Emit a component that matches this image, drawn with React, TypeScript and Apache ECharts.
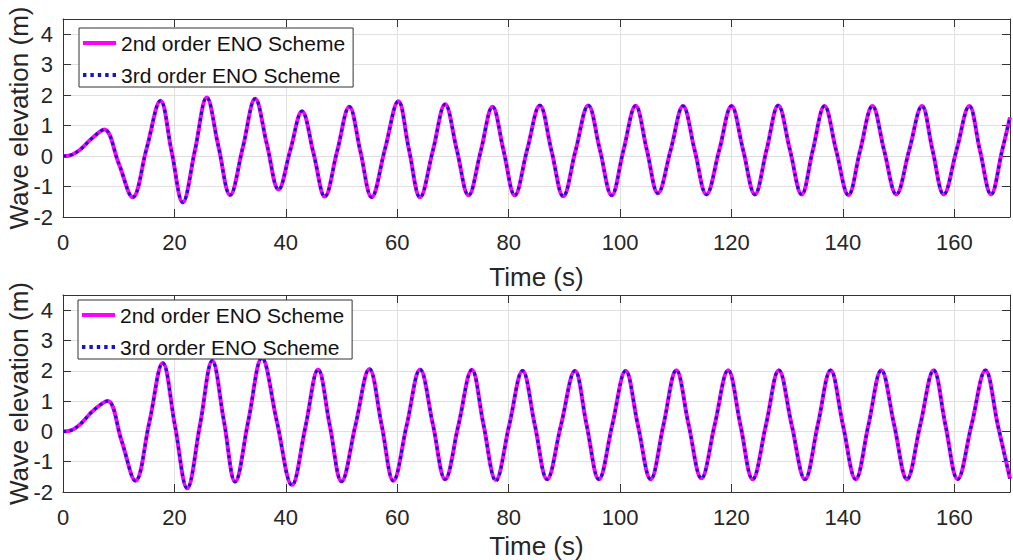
import { useEffect, useRef } from 'react';
import * as echarts from 'echarts';

const FONT = '"Liberation Sans", Arial, Helvetica, sans-serif';
const AXIS_COLOR = '#333333';
const GRID_COLOR = '#e0e0e0';
const TEXT_COLOR = '#262626';

const SERIES_2ND = '2nd order ENO Scheme';
const SERIES_3RD = '3rd order ENO Scheme';

// Top panel: time (s) and wave elevation (m) read at crests, troughs and mid-level crossings
const topTime = [
  0, 1.2, 3, 5, 7.4, 10, 12.5, 15, 17.5, 19.5, 21.5, 23.7, 25.8, 27.9, 30, 32.3, 34.5, 36.6, 38.7,
  40.8, 42.9, 45, 47, 49.2, 51.4, 53.4, 55.4, 57.8, 60.2, 62.1, 64.1, 66.4, 68.6, 70.7, 72.8, 75,
  77.1, 79.1, 81.1, 83.3, 85.6, 87.7, 89.8, 92, 94.3, 96.4, 98.5, 100.6, 102.8, 104.8, 106.8, 109.1,
  111.3, 113.4, 115.5, 117.8, 120, 122.1, 124.2, 126.3, 128.4, 130.5, 132.6, 134.6, 136.7, 138.8,
  141, 143.1, 145.3, 147.4, 149.6, 151.9, 154.2, 156.1, 158.1, 160.4, 162.7, 164.6, 166.6, 168.6, 170,
];
const topElev2nd = [
  0, 0.02, 0.2, 0.55, 0.87, -0.24, -1.35, 0.24, 1.82, 0.15, -1.52, 0.2, 1.92, 0.32, -1.28, 0.3, 1.88, 0.39, -1.1,
  0.19, 1.47, 0.07, -1.33, 0.15, 1.62, 0.14, -1.35, 0.23, 1.8, 0.22, -1.35, 0.18, 1.7, 0.2, -1.29, 0.17,
  1.62, 0.17, -1.29, 0.19, 1.66, 0.17, -1.32, 0.17, 1.66, 0.19, -1.29, 0.18, 1.65, 0.21, -1.22, 0.21,
  1.64, 0.19, -1.26, 0.19, 1.64, 0.19, -1.26, 0.2, 1.66, 0.2, -1.26, 0.19, 1.64, 0.18,
  -1.28, 0.18, 1.64, 0.19, -1.26, 0.19, 1.64, 0.19, -1.26, 0.19, 1.64, 0.19, -1.26, 0.19, 1.27,
];
const topElev3rd = [
  0, 0.02, 0.2, 0.55, 0.87, -0.24, -1.35, 0.24, 1.82, 0.15, -1.52, 0.2, 1.92, 0.32, -1.28, 0.3, 1.88, 0.39, -1.1,
  0.19, 1.47, 0.07, -1.33, 0.15, 1.62, 0.14, -1.35, 0.23, 1.8, 0.22, -1.35, 0.18, 1.7, 0.2, -1.29, 0.17,
  1.62, 0.17, -1.29, 0.19, 1.66, 0.17, -1.32, 0.17, 1.66, 0.19, -1.29, 0.18, 1.65, 0.21, -1.22, 0.21,
  1.64, 0.19, -1.26, 0.19, 1.64, 0.19, -1.26, 0.2, 1.66, 0.2, -1.26, 0.19, 1.64, 0.18,
  -1.28, 0.18, 1.64, 0.19, -1.26, 0.19, 1.64, 0.19, -1.26, 0.19, 1.64, 0.19, -1.26, 0.19, 1.27,
];

// Bottom panel
const bottomTime = [
  0, 1.2, 3, 5.5, 8, 10.5, 13, 15.5, 17.9, 20.1, 22.3, 24.6, 26.8, 28.9, 30.9, 33.3, 35.7, 38.4, 41.1,
  43.5, 45.8, 47.9, 50, 52.5, 55, 57.2, 59.3, 61.7, 64.1, 66.4, 68.6, 71, 73.4, 75.5, 77.7, 80.1,
  82.5, 84.7, 86.9, 89.4, 91.9, 94, 96.2, 98.6, 101, 103.2, 105.5, 107.8, 110.1, 112.3, 114.6, 117,
  119.4, 121.6, 123.8, 126.2, 128.5, 130.8, 133.2, 135.5, 137.8, 140, 142.3, 144.6, 146.9, 149.2,
  151.5, 153.9, 156.3, 158.4, 160.6, 163.1, 165.6, 167.8, 170,
];
const bottomElev2nd = [
  0, 0.02, 0.22, 0.7, 1.0, -0.3, -1.63, 0.3, 2.26, 0.19, -1.88, 0.22, 2.33, 0.33, -1.66, 0.38, 2.42, 0.32, -1.77,
  0.13, 2.04, 0.19, -1.65, 0.2, 2.06, 0.21, -1.63, 0.2, 2.04, 0.23, -1.58, 0.22, 2.03, 0.21, -1.6, 0.2,
  2.0, 0.21, -1.58, 0.21, 2.0, 0.21, -1.58, 0.21, 2.0, 0.21, -1.58, 0.22, 2.02, 0.23, -1.55, 0.23,
  2.02, 0.22, -1.58, 0.22, 2.02, 0.22, -1.58, 0.22, 2.02, 0.22, -1.58, 0.22, 2.02, 0.22,
  -1.58, 0.22, 2.02, 0.22, -1.58, 0.22, 2.02, 0.22, -1.56,
];
const bottomElev3rd = [
  0, 0.02, 0.22, 0.7, 1.0, -0.3, -1.63, 0.3, 2.26, 0.19, -1.88, 0.22, 2.33, 0.33, -1.66, 0.38, 2.42, 0.32, -1.77,
  0.13, 2.04, 0.19, -1.65, 0.2, 2.06, 0.21, -1.63, 0.2, 2.04, 0.23, -1.58, 0.22, 2.03, 0.21, -1.64, 0.2,
  2.0, 0.21, -1.58, 0.21, 2.0, 0.21, -1.58, 0.21, 2.0, 0.21, -1.58, 0.22, 2.02, 0.23, -1.55, 0.23,
  2.02, 0.22, -1.58, 0.22, 2.02, 0.22, -1.58, 0.22, 2.02, 0.22, -1.58, 0.22, 2.02, 0.22,
  -1.58, 0.22, 2.02, 0.22, -1.58, 0.22, 2.02, 0.22, -1.56,
];

const X_MIN = 0;
const X_MAX = 170;
const X_STEP = 20;
const Y_MIN = -2;
const Y_MAX = 4.5;
const Y_STEP = 1;

const MAGENTA = '#ff00ff';
const BLUE = '#1414c8';

const ICON_SOLID = 'path://M0,0h33v4h-33z';
const ICON_DOTTED =
  'path://M0,0h3.4v4h-3.4z M7.4,0h3.4v4h-3.4z M14.8,0h3.4v4h-3.4z M22.2,0h3.4v4h-3.4z M29.6,0h3.4v4h-3.4z';

const pairs = (t: number[], v: number[]) => t.map((x, i) => [x, v[i]]);

function mainX(gridIndex: number, nameGap: number) {
  return {
    type: 'value', gridIndex, min: X_MIN, max: X_MAX, interval: X_STEP, position: 'bottom',
    axisLine: { show: true, onZero: false, lineStyle: { color: AXIS_COLOR, width: 1 } },
    axisTick: { show: true, inside: true, length: 8, lineStyle: { color: AXIS_COLOR } },
    axisLabel: { show: true, fontSize: 22, color: TEXT_COLOR, fontFamily: FONT, margin: 14, showMaxLabel: false },
    splitLine: { show: true, lineStyle: { color: GRID_COLOR, width: 1 } },
    name: 'Time (s)', nameLocation: 'middle', nameGap, nameMoveOverlap: false,
    nameTextStyle: { fontSize: 26, color: TEXT_COLOR, fontFamily: FONT, lineHeight: 28 },
  };
}
function topX(gridIndex: number) {
  return {
    type: 'value', gridIndex, min: X_MIN, max: X_MAX, interval: X_STEP, position: 'top',
    axisLine: { show: true, onZero: false, lineStyle: { color: AXIS_COLOR, width: 1 } },
    axisTick: { show: true, inside: true, length: 8, lineStyle: { color: AXIS_COLOR } },
    axisLabel: { show: false }, splitLine: { show: false },
  };
}
function mainY(gridIndex: number) {
  return {
    type: 'value', gridIndex, min: Y_MIN, max: Y_MAX, interval: Y_STEP, position: 'left',
    axisLine: { show: true, onZero: false, lineStyle: { color: AXIS_COLOR, width: 1 } },
    axisTick: { show: true, inside: true, length: 8, lineStyle: { color: AXIS_COLOR } },
    axisLabel: { show: true, fontSize: 22, color: TEXT_COLOR, fontFamily: FONT, margin: 10, showMaxLabel: false },
    splitLine: { show: true, lineStyle: { color: GRID_COLOR, width: 1 } },
    name: 'Wave elevation (m)', nameLocation: 'middle', nameGap: 31, nameMoveOverlap: false,
    nameTextStyle: { fontSize: 26, color: TEXT_COLOR, fontFamily: FONT, lineHeight: 26 },
  };
}
function rightY(gridIndex: number) {
  return {
    type: 'value', gridIndex, min: Y_MIN, max: Y_MAX, interval: Y_STEP, position: 'right',
    axisLine: { show: true, onZero: false, lineStyle: { color: AXIS_COLOR, width: 1 } },
    axisTick: { show: true, inside: true, length: 8, lineStyle: { color: AXIS_COLOR } },
    axisLabel: { show: false }, splitLine: { show: false },
  };
}

function legendAt(left: number, top: number) {
  return {
    orient: 'vertical', left, top,
    data: [
      { name: SERIES_2ND, icon: ICON_SOLID },
      { name: SERIES_3RD, icon: ICON_DOTTED },
    ],
    itemWidth: 33, itemHeight: 4, itemGap: 10,
    padding: [4, 8, 1, 4],
    backgroundColor: '#ffffff', borderColor: AXIS_COLOR, borderWidth: 1, borderRadius: 0,
    textStyle: { fontSize: 21, color: '#111111', fontFamily: FONT, lineHeight: 22 },
    selectedMode: false,
  };
}

function lineSeries(name: string, axisIndex: number, data: number[][], dotted: boolean) {
  return {
    name, type: 'line', xAxisIndex: axisIndex, yAxisIndex: axisIndex, data,
    showSymbol: false, symbol: 'none', smooth: 0.38,
    lineStyle: dotted
      ? { color: BLUE, width: 3, type: [3.2, 3.4] }
      : { color: MAGENTA, width: 4 },
    itemStyle: { color: dotted ? BLUE : MAGENTA },
    z: dotted ? 3 : 2,
  };
}

export default function App() {
  const ref = useRef<HTMLDivElement>(null);
  useEffect(() => {
    if (!ref.current) return;
    const chart = echarts.init(ref.current, undefined, { renderer: 'svg' });
    chart.setOption({
      animation: false,
      backgroundColor: '#ffffff',
      grid: [
        { left: 63, right: 3, top: 19, height: 198, containLabel: false, outerBoundsMode: 'none' },
        { left: 63, right: 3, top: 295, height: 197, containLabel: false, outerBoundsMode: 'none' },
      ],
      xAxis: [mainX(0, 46), topX(0), mainX(1, 40), topX(1)],
      yAxis: [mainY(0), rightY(0), mainY(1), rightY(1)],
      legend: [legendAt(79, 28), legendAt(78, 300)],
      series: [
        lineSeries(SERIES_2ND, 0, pairs(topTime, topElev2nd), false),
        lineSeries(SERIES_3RD, 0, pairs(topTime, topElev3rd), true),
        lineSeries(SERIES_2ND, 2, pairs(bottomTime, bottomElev2nd), false),
        lineSeries(SERIES_3RD, 2, pairs(bottomTime, bottomElev3rd), true),
      ],
    });
    return () => chart.dispose();
  }, []);
  return (
    <div
      ref={ref}
      style={{ position: 'absolute', left: 0, top: 0, width: 1013, height: 560, background: '#fff' }}
    />
  );
}
